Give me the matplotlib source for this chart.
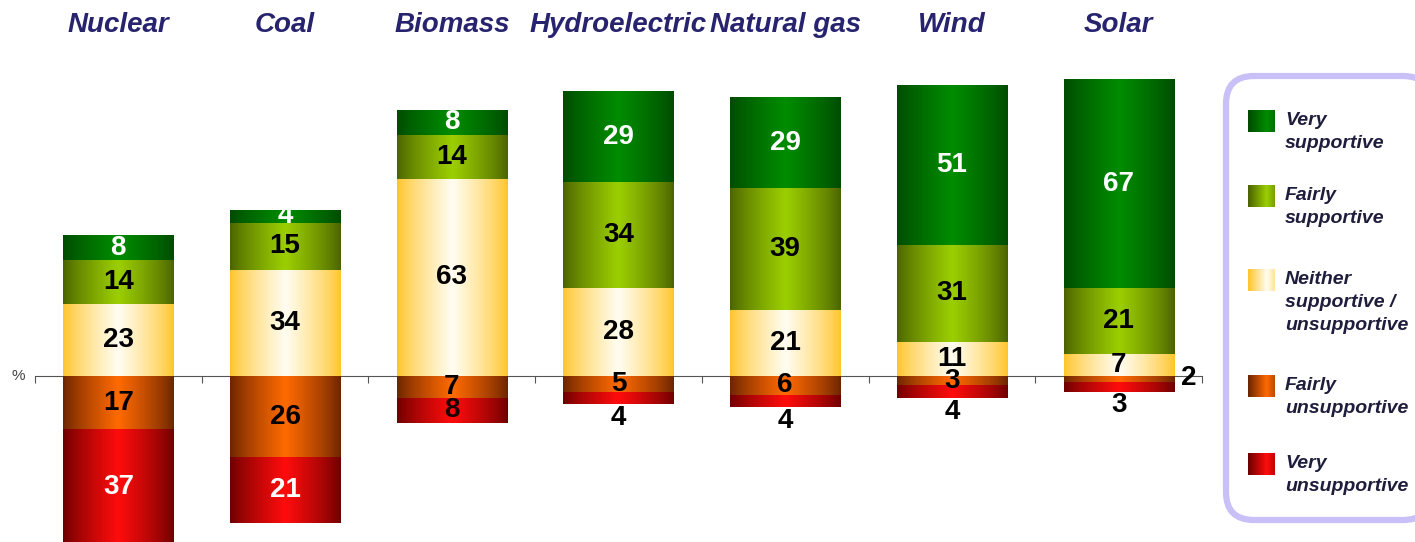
import matplotlib
matplotlib.use('Agg')
import matplotlib.pyplot as plt
import numpy as np
from matplotlib.colors import LinearSegmentedColormap
from matplotlib.patches import FancyBboxPatch

plt.rcParams['font.family'] = ['Liberation Sans', 'DejaVu Sans']

# survey data (%)
cats = ['Nuclear', 'Coal', 'Biomass', 'Hydroelectric', 'Natural gas', 'Wind', 'Solar']
very_sup = [8, 4, 8, 29, 29, 51, 67]
fairly_sup = [14, 15, 14, 34, 39, 31, 21]
neither = [23, 34, 63, 28, 21, 11, 7]
fairly_unsup = [17, 26, 7, 5, 6, 3, 2]
very_unsup = [37, 21, 8, 4, 4, 4, 3]

legend_labels = ['Very\nsupportive', 'Fairly\nsupportive', 'Neither\nsupportive /\nunsupportive',
                 'Fairly\nunsupportive', 'Very\nunsupportive']

# (edge colour, centre colour) for the shaded fills
shades = {
    'very_sup': ('#004a00', '#008c00'),
    'fairly_sup': ('#4a6200', '#9ccf00'),
    'neither': ('#ffc428', '#fffdf2'),
    'fairly_unsup': ('#6a2400', '#ff6a00'),
    'very_unsup': ('#6c0000', '#ff0c0c'),
}
cmaps = {k: LinearSegmentedColormap.from_list(k, v) for k, v in shades.items()}

g = np.linspace(-1, 1, 256)
grad_sym = (1 - np.abs(g))[None, :] ** 0.8
# legend swatches: dark on the left, brightest towards the right
gl = np.linspace(0, 1, 64)
grad_leg = np.interp(gl, [0, 0.7, 1], [0.0, 1.0, 0.55])[None, :]

W, H = 1415, 542
fig = plt.figure(figsize=(W / 100, H / 100), dpi=100)
ax = fig.add_axes([35 / W, 0, 1167 / W, (H - 60) / H])

x = np.arange(len(cats))
bw = 0.66


def shaded_bars(vals, bottom, key):
    bars = ax.bar(x, vals, bw, bottom=bottom, color='none', edgecolor='none', zorder=3)
    for b in bars:
        x0, y0, w, h = b.get_x(), b.get_y(), b.get_width(), b.get_height()
        im = ax.imshow(grad_sym, cmap=cmaps[key], vmin=0, vmax=1, aspect='auto',
                       extent=(x0, x0 + w, min(y0, y0 + h), max(y0, y0 + h)),
                       interpolation='bicubic', zorder=2)
        im.set_clip_path(b)
    return bars


neither_a = np.array(neither)
fs_a = np.array(fairly_sup)
vs_a = np.array(very_sup)
fu_a = np.array(fairly_unsup)
vu_a = np.array(very_unsup)

shaded_bars(neither_a, 0, 'neither')
shaded_bars(fs_a, neither_a, 'fairly_sup')
shaded_bars(vs_a, neither_a + fs_a, 'very_sup')
shaded_bars(-fu_a, 0, 'fairly_unsup')
shaded_bars(-vu_a, -fu_a, 'very_unsup')

lab = dict(fontsize=20, fontweight='bold', ha='center', va='center', zorder=5)
for i in x:
    ax.text(i, neither_a[i] / 2, str(neither[i]), color='black', **lab)
    ax.text(i, neither_a[i] + fs_a[i] / 2, str(fairly_sup[i]), color='black', **lab)
    ax.text(i, neither_a[i] + fs_a[i] + vs_a[i] / 2, str(very_sup[i]), color='white', **lab)
    if fu_a[i] < 3:
        ax.text(i + bw / 2 + 0.09, -0.6, str(fairly_unsup[i]), color='black', **lab)
    else:
        ax.text(i, -fu_a[i] / 2, str(fairly_unsup[i]), color='black', **lab)
    if vu_a[i] <= 4:
        ax.text(i, -fu_a[i] - vu_a[i] - 0.2, str(very_unsup[i]), color='black',
                **{**lab, 'va': 'top'})
    else:
        c = 'white' if vu_a[i] >= 10 else '#1a0000'
        ax.text(i, -fu_a[i] - vu_a[i] / 2, str(very_unsup[i]), color=c, **lab)
    ax.text(i, 112, cats[i], color='#27236e', fontsize=20, fontweight='bold',
            fontstyle='italic', ha='center', va='center', clip_on=False)

ax.set_xlim(-0.5, len(cats) - 0.5)
ax.set_ylim(-(H - 376) / 3.13, (376 - 60) / 3.13)
for s in ['top', 'right', 'left']:
    ax.spines[s].set_visible(False)
ax.spines['bottom'].set_position(('data', 0))
ax.spines['bottom'].set_color('#555555')
ax.spines['bottom'].set_zorder(1)
ax.set_xticks(np.arange(len(cats) + 1) - 0.5)
ax.set_yticks([])
ax.tick_params(axis='x', direction='out', length=5, color='#555555', labelbottom=False)
ax.text(-0.56, 0.1, '%', ha='right', va='center', fontsize=11, color='#444444')

# legend drawn in pixel coordinates
lax = fig.add_axes([0, 0, 1, 1])
lax.set_axis_off()
box = FancyBboxPatch((1226, 76), 205, 444, boxstyle='round,pad=0,rounding_size=28',
                     ec='#c8c0f6', fc='white', lw=4.5, zorder=0)
lax.add_patch(box)
keys = ['very_sup', 'fairly_sup', 'neither', 'fairly_unsup', 'very_unsup']
tops = [110, 185, 269, 375, 453]
for k, t, txt in zip(keys, tops, legend_labels):
    lax.imshow(grad_leg, cmap=cmaps[k], vmin=0, vmax=1, aspect='auto',
               extent=(1248, 1275, t + 22, t), interpolation='bicubic', zorder=2)
    lax.text(1285, t + 2, txt, fontsize=14, fontweight='bold', fontstyle='italic',
             color='#1e1e3c', ha='left', va='top', linespacing=1.45, zorder=3)
lax.set_xlim(0, W)
lax.set_ylim(H, 0)

fig.savefig('out.png', dpi=100)
